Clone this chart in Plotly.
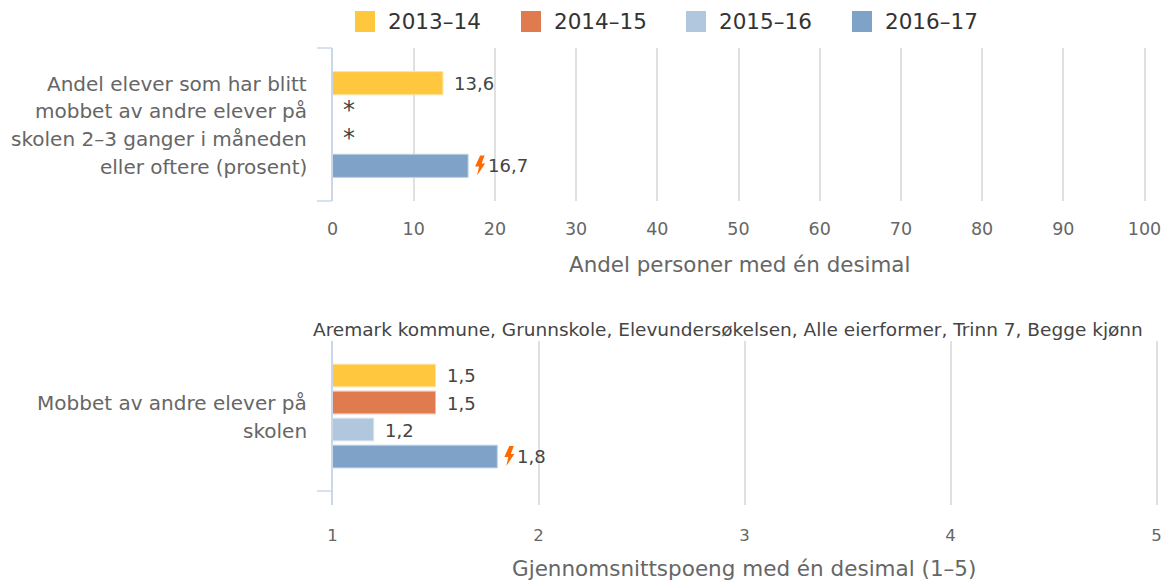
import plotly.graph_objects as go

W, H = 1169, 580
FONT = "DejaVu Sans"

years = ["2013–14", "2014–15", "2015–16", "2016–17"]
colors = ["#FFC73E", "#DF7B4E", "#B0C7DE", "#7FA3C8"]
edges = ["#FFE39F", "#EFBDA6", "#D7E3EE", "#BFD1E3"]

cat_top = "Andel elever som har blitt mobbet av andre elever på skolen 2–3 ganger i måneden eller oftere (prosent)"
cat_top_lines = ["Andel elever som har blitt", "mobbet av andre elever på", "skolen 2–3 ganger i måneden", "eller oftere (prosent)"]
values_top = [13.6, None, None, 16.7]
labels_top = ["13,6", "*", "*", "16,7"]
flag_top = [False, False, False, True]

cat_bot = "Mobbet av andre elever på skolen"
cat_bot_lines = ["Mobbet av andre elever på", "skolen"]
values_bot = [1.5, 1.5, 1.2, 1.8]
labels_bot = ["1,5", "1,5", "1,2", "1,8"]
flag_bot = [False, False, False, True]

ticks_top = [0, 10, 20, 30, 40, 50, 60, 70, 80, 90, 100]
ticks_bot = [1, 2, 3, 4, 5]
title_top = "Andel personer med én desimal"
title_bot = "Gjennomsnittspoeng med én desimal (1–5)"
subtitle = "Aremark kommune, Grunnskole, Elevundersøkelsen, Alle eierformer, Trinn 7, Begge kjønn"


def px(x):
    return x / W


def py(y):
    return 1 - y / H


fig = go.Figure()
for i, year in enumerate(years):
    fig.add_bar(y=[cat_top], x=[values_top[i]], orientation="h", xaxis="x", yaxis="y",
                marker=dict(color=colors[i], line=dict(color=edges[i], width=1)), showlegend=False, name=year)
    fig.add_bar(y=[cat_bot], x=[values_bot[i]], orientation="h", xaxis="x2", yaxis="y2",
                marker=dict(color=colors[i], line=dict(color=edges[i], width=1)), showlegend=False, name=year)

GRID = "#E0E0E0"
AXIS = "#CCD6EB"
common_x = dict(showgrid=True, gridcolor=GRID, gridwidth=2, zeroline=False, ticks="", showline=False)
fig.update_layout(
    width=W, height=H, margin=dict(l=0, r=0, t=0, b=0, pad=0, autoexpand=False), autosize=False,
    paper_bgcolor="white", plot_bgcolor="white", barmode="group",
    bargap=0.28, bargroupgap=0.16, showlegend=False,
    font=dict(family=FONT),
    # the ranges run 2 px past the last tick so that the last gridline is still drawn
    xaxis=dict(domain=[px(332.5), px(1146.5)], anchor="y", range=[0, 100.246], tickvals=ticks_top,
               ticklabelstandoff=15, tickfont=dict(family=FONT, color="#666666", size=17.5), **common_x),
    yaxis=dict(domain=[py(201), py(48)], anchor="x", autorange=False, range=[0.5, -0.5],
               showticklabels=False, showgrid=False, showline=True, linecolor=AXIS, linewidth=2, ticks=""),
    xaxis2=dict(domain=[px(332.5), px(1158.5)], anchor="y2", range=[1, 5.0097], tickvals=ticks_bot,
                ticklabelstandoff=18, tickfont=dict(family=FONT, color="#666666", size=16.5), **common_x),
    yaxis2=dict(domain=[py(505), py(341)], anchor="x2", autorange=False, range=[0.593, -0.5],
                showticklabels=False, showgrid=False, showline=True, linecolor=AXIS, linewidth=2, ticks=""),
)

ann = []
shapes = []


def text(x, y, s, size, color, anchor="center"):
    ann.append(dict(x=px(x), y=py(y), xref="paper", yref="paper", text=s, showarrow=False,
                    xanchor=anchor, yanchor="middle", font=dict(family=FONT, size=size, color=color)))


# legend
for i, x0 in enumerate([355, 521, 686, 852]):
    shapes.append(dict(type="rect", xref="paper", yref="paper", x0=px(x0), x1=px(x0 + 20),
                       y0=py(32), y1=py(11), fillcolor=colors[i], line=dict(width=0)))
    text(x0 + 31, 22, years[i], 21.5, "#333333", "left")

# category labels
for line, y in zip(cat_top_lines, [84, 111.5, 139, 167]):
    text(309, y, line, 20, "#666666", "right")
for line, y in zip(cat_bot_lines, [403, 431]):
    text(309, y, line, 20, "#666666", "right")

# axis tick stubs
for y in [48, 201, 491]:
    shapes.append(dict(type="line", xref="paper", yref="paper", x0=px(317), x1=px(332), y0=py(y), y1=py(y),
                       line=dict(color=AXIS, width=1.5)))

# axis titles and subtitle
text(739, 264, title_top, 21.4, "#666666")
text(744, 568, title_bot, 21.5, "#666666")
text(728, 329, subtitle, 18.5, "#444444")

BOLT_PATH = "M 12,-10 L 16.5,-10 L 13.5,-2 L 17,-2 L 9,10 L 11,1 L 7,1 Z"


def data_labels(values, labels, flags, ax_x, ax_y, star_x, rows):
    for i, (v, lab, fl) in enumerate(zip(values, labels, flags)):
        if v is None:
            ann.append(dict(x=star_x, y=0, xref=ax_x, yref=ax_y, text=lab, showarrow=False, xanchor="center",
                            yanchor="middle", yshift=-rows[i], font=dict(family=FONT, size=24, color="#444444")))
        else:
            ann.append(dict(x=v, y=0, xref=ax_x, yref=ax_y, text=lab, showarrow=False,
                            xanchor="left", yanchor="middle", xshift=18 if fl else 9, yshift=-rows[i],
                            font=dict(family=FONT, size=18, color="#444444")))
            if fl:
                shapes.append(dict(type="path", xref=ax_x, yref=ax_y, xsizemode="pixel", ysizemode="pixel",
                                   xanchor=v, yanchor=0,
                                   path=" ".join(
                                       p if p in "MLZ" else f"{p.split(',')[0]},{-float(p.split(',')[1]) - rows[i]}"
                                       for p in BOLT_PATH.split()),
                                   fillcolor="#FF6A00", line=dict(width=0)))


data_labels(values_top, labels_top, flag_top, "x", "y", 2, [-41, -14, 14, 41])
data_labels(values_bot, labels_bot, flag_bot, "x2", "y2", 1, [-41, -13, 14, 40])

fig.update_layout(annotations=ann, shapes=shapes)
fig.write_html("out.html", default_width="1169px", default_height="580px",
               config=dict(displayModeBar=False),
               post_script="document.body.style.margin='0';document.documentElement.style.overflow='hidden';")
